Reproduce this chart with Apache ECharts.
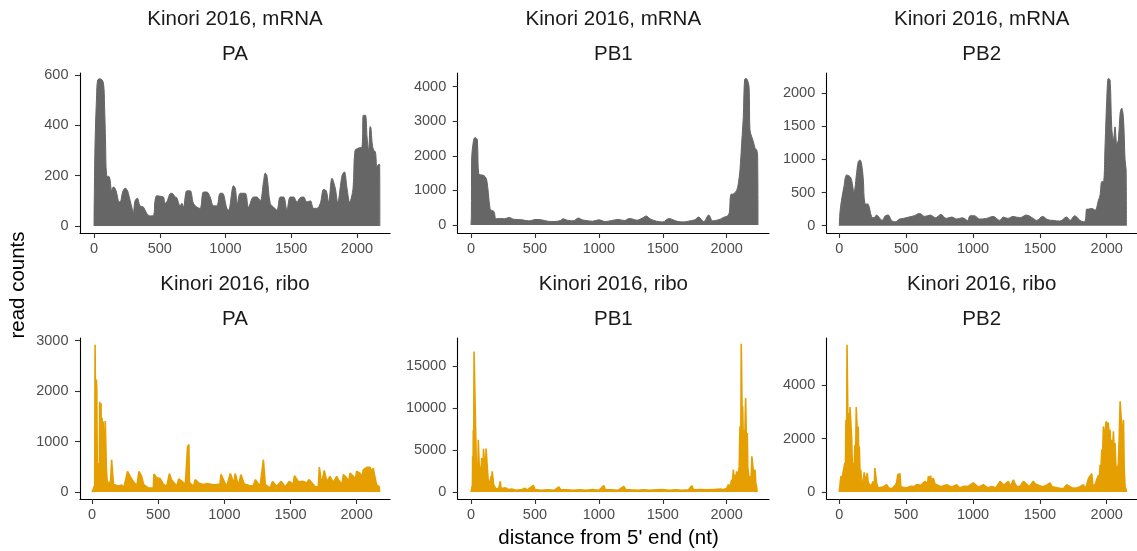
<!DOCTYPE html>
<html><head><meta charset="utf-8">
<script src="https://cdn.jsdelivr.net/npm/echarts/dist/echarts.min.js"></script>
<style>html,body{margin:0;padding:0;background:#fff}#c{width:1137px;height:551px}</style>
</head><body><div id="c"></div>
<script>
// ---- data (position in nt, read count) ----
const xTicks = [0, 500, 1000, 1500, 2000];
const yTicksPAmRNA = [0, 200, 400, 600];
const yTicksPB1mRNA = [0, 1000, 2000, 3000, 4000];
const yTicksPB2mRNA = [0, 500, 1000, 1500, 2000];
const yTicksPAribo = [0, 1000, 2000, 3000];
const yTicksPB1ribo = [0, 5000, 10000, 15000];
const yTicksPB2ribo = [0, 2000, 4000];

const mrnaPA = [[0,0],[3,150],[8,330],[20,520],[28,580],[46,585],[71,570],[80,480],[88,330],[96,200],[117,195],[135,140],[147,155],[160,150],[173,130],[185,100],[198,95],[218,135],[236,150],[250,145],[261,130],[287,75],[299,55],[312,100],[330,110],[350,80],[376,75],[401,50],[426,40],[452,42],[464,100],[477,120],[503,118],[528,115],[541,90],[553,95],[584,130],[600,128],[617,115],[629,113],[655,80],[668,90],[680,75],[706,140],[731,140],[756,90],[782,75],[807,70],[832,135],[858,135],[883,115],[909,80],[934,80],[959,130],[977,130],[1010,70],[1023,63],[1061,160],[1074,150],[1091,90],[1112,130],[1150,130],[1175,75],[1213,115],[1239,115],[1264,100],[1289,175],[1302,210],[1315,200],[1340,90],[1365,75],[1391,63],[1416,115],[1442,115],[1467,63],[1492,115],[1518,115],[1543,95],[1569,113],[1594,115],[1619,95],[1645,100],[1670,70],[1695,70],[1721,90],[1746,145],[1766,140],[1784,95],[1810,190],[1835,150],[1853,95],[1886,200],[1904,215],[1924,150],[1944,95],[1970,150],[1985,300],[2013,310],[2038,315],[2048,440],[2064,440],[2077,350],[2089,300],[2100,395],[2106,390],[2115,330],[2127,300],[2140,295],[2152,235],[2165,245],[2172,245],[2174,0]];

const mrnaPB1 = [[0,0],[3,300],[5,1880],[18,2410],[31,2530],[50,2460],[55,1800],[60,1500],[70,1450],[91,1445],[110,1400],[123,1300],[136,915],[149,480],[162,420],[180,390],[196,180],[230,190],[260,180],[300,220],[330,170],[360,160],[400,150],[450,120],[480,140],[500,160],[550,150],[600,110],[650,100],[700,130],[720,180],[750,140],[800,120],[840,200],[870,150],[900,130],[950,110],[1000,150],[1050,100],[1100,130],[1150,160],[1200,130],[1240,190],[1300,140],[1340,200],[1370,260],[1400,180],[1450,110],[1500,90],[1550,190],[1580,150],[1620,100],[1660,90],[1700,110],[1750,150],[1780,230],[1820,100],[1860,290],[1890,120],[1950,170],[1974,220],[2000,250],[2020,350],[2032,880],[2052,900],[2078,1000],[2091,1200],[2104,1590],[2117,2360],[2130,3130],[2140,4200],[2152,4240],[2162,4190],[2175,4000],[2182,2750],[2196,2550],[2209,2410],[2222,2220],[2235,2170],[2242,1975],[2245,0]];

const mrnaPB2 = [[0,0],[5,200],[17,385],[35,590],[55,765],[80,740],[92,690],[110,510],[130,800],[142,965],[155,990],[167,930],[180,690],[192,335],[217,320],[242,135],[260,120],[279,160],[300,120],[320,80],[345,150],[367,160],[390,80],[420,60],[450,100],[479,110],[500,120],[530,135],[560,150],[600,185],[640,140],[680,160],[720,120],[760,170],[800,110],[840,130],[880,100],[920,120],[960,80],[978,150],[1010,150],[1050,100],[1100,110],[1150,140],[1200,80],[1227,130],[1260,110],[1300,140],[1350,120],[1400,160],[1450,110],[1476,80],[1520,140],[1560,90],[1600,80],[1650,70],[1700,130],[1726,80],[1760,150],[1800,80],[1825,60],[1840,80],[1850,250],[1863,250],[1888,260],[1913,235],[1938,385],[1950,460],[1963,665],[1975,665],[1988,1240],[2000,1895],[2012,2220],[2025,2195],[2037,1490],[2050,1290],[2062,1490],[2075,1240],[2087,1290],[2100,1695],[2112,1770],[2125,1620],[2137,990],[2145,840],[2147,0]];

const riboPA = [[0,0],[10,60],[15,110],[20,60],[23,2920],[27,2900],[30,300],[33,2230],[36,2030],[40,400],[45,575],[48,150],[55,200],[58,1790],[62,1780],[65,300],[68,1760],[72,400],[76,1470],[80,200],[85,1400],[90,1400],[95,300],[100,1410],[105,1400],[108,500],[111,510],[115,180],[123,180],[130,150],[140,200],[148,640],[158,630],[162,150],[174,145],[200,120],[224,140],[240,80],[268,410],[275,400],[290,300],[300,310],[312,210],[330,150],[338,110],[355,410],[365,400],[375,310],[390,145],[401,145],[426,80],[463,80],[468,357],[476,350],[490,280],[501,280],[515,265],[526,265],[540,150],[564,110],[585,365],[592,360],[600,245],[615,245],[630,150],[640,110],[655,258],[665,258],[680,210],[690,210],[705,145],[715,145],[722,900],[732,940],[736,190],[750,190],[766,110],[780,245],[790,245],[805,180],[816,180],[840,150],[866,165],[890,160],[917,145],[940,150],[967,160],[975,350],[987,375],[1000,200],[1018,110],[1045,365],[1060,365],[1075,160],[1081,365],[1090,300],[1105,110],[1118,110],[1125,345],[1135,345],[1150,160],[1169,145],[1200,120],[1219,130],[1235,245],[1250,245],[1270,110],[1295,640],[1305,640],[1310,145],[1320,145],[1345,80],[1365,210],[1375,210],[1395,110],[1430,210],[1440,210],[1460,100],[1471,80],[1490,210],[1500,210],[1520,150],[1530,325],[1545,325],[1560,200],[1572,180],[1597,210],[1622,180],[1640,245],[1655,245],[1685,110],[1710,100],[1718,495],[1726,495],[1735,150],[1743,150],[1755,430],[1765,430],[1775,200],[1798,310],[1810,300],[1824,190],[1849,310],[1860,250],[1874,245],[1890,150],[1899,345],[1910,340],[1924,280],[1940,200],[1950,375],[1960,370],[1975,310],[1990,250],[2000,410],[2012,400],[2025,375],[2040,300],[2050,440],[2060,440],[2076,490],[2090,480],[2101,490],[2115,400],[2125,475],[2139,475],[2150,145],[2164,145],[2171,100],[2173,0]];

const riboPB1 = [[0,0],[5,300],[8,680],[11,300],[13,4260],[16,2000],[18,7440],[21,3000],[24,16790],[32,16790],[39,16790],[42,3000],[47,3460],[52,1000],[57,6250],[62,6250],[66,2500],[73,3060],[78,1500],[83,4060],[90,1500],[98,5170],[104,5170],[112,2000],[118,5200],[130,5250],[134,1470],[138,1470],[145,800],[156,1870],[160,1000],[166,2470],[172,2470],[177,875],[190,500],[208,300],[220,600],[229,1270],[235,400],[247,350],[270,500],[290,300],[320,350],[350,200],[400,300],[420,450],[440,250],[488,800],[500,300],[550,200],[600,250],[650,200],[688,600],[700,300],[750,250],[800,200],[850,250],[900,200],[950,300],[1000,200],[1039,760],[1050,300],[1100,250],[1150,200],[1195,680],[1210,300],[1250,250],[1300,200],[1350,250],[1400,200],[1450,250],[1500,300],[1550,200],[1600,250],[1650,200],[1700,250],[1727,760],[1740,250],[1800,300],[1850,250],[1900,300],[1950,350],[1974,300],[2000,400],[2013,875],[2025,600],[2039,1470],[2045,1000],[2052,2670],[2058,1500],[2065,2070],[2072,1500],[2078,2470],[2085,1500],[2091,2270],[2098,3000],[2104,7840],[2110,5000],[2114,17710],[2119,17710],[2122,8000],[2125,10230],[2130,6000],[2135,7440],[2140,5000],[2148,11220],[2152,11220],[2156,5000],[2161,7040],[2165,3000],[2169,3060],[2175,1500],[2182,1870],[2190,1200],[2197,4260],[2208,4060],[2215,1500],[2221,2670],[2228,1000],[2234,680],[2238,0]];

const riboPB2 = [[0,0],[5,25],[12,590],[20,500],[30,775],[38,700],[42,1090],[46,800],[50,2710],[55,2000],[58,5525],[63,5525],[66,2000],[70,2960],[75,1500],[80,3190],[86,3190],[92,2090],[98,1000],[105,1090],[110,800],[117,1775],[122,1200],[127,3190],[134,3150],[138,1800],[142,2460],[146,1200],[150,1710],[155,700],[160,840],[170,300],[180,400],[186,740],[192,740],[200,350],[209,715],[215,400],[229,210],[245,300],[254,400],[262,200],[266,900],[272,880],[279,340],[290,150],[304,90],[330,200],[354,275],[370,150],[392,120],[410,200],[429,340],[437,650],[447,690],[454,690],[460,200],[466,150],[500,150],[529,210],[560,200],[579,275],[610,250],[641,400],[660,300],[666,590],[675,500],[683,610],[690,400],[703,525],[715,300],[728,275],[760,200],[803,275],[840,180],[878,275],[900,150],[928,210],[960,200],[1002,340],[1040,180],[1077,275],[1110,150],[1140,210],[1170,150],[1202,400],[1230,250],[1264,400],[1280,200],[1302,460],[1315,300],[1327,210],[1350,200],[1377,400],[1400,300],[1420,200],[1451,400],[1465,300],[1476,275],[1520,200],[1550,250],[1576,340],[1590,200],[1601,210],[1640,150],[1676,120],[1701,275],[1740,150],[1776,150],[1800,200],[1825,275],[1840,100],[1850,90],[1865,525],[1875,500],[1888,690],[1895,300],[1900,210],[1915,300],[1925,460],[1932,400],[1938,625],[1945,500],[1950,1025],[1956,800],[1963,1590],[1968,1200],[1975,2460],[1985,2000],[1995,2650],[2005,2500],[2012,2610],[2018,2000],[2025,2340],[2030,1500],[2037,1960],[2043,1500],[2050,2280],[2056,1500],[2062,1840],[2068,1000],[2075,960],[2080,800],[2087,1090],[2093,2000],[2100,3400],[2107,3400],[2112,3340],[2118,2000],[2125,2710],[2131,800],[2137,210],[2145,80],[2147,0]];

// ---- layout / styles ----
const GREY = '#666666', ORANGE = '#E69F00';
const FONT = '"Liberation Sans", Arial, Helvetica, sans-serif';
const panels = [
  {lib:'Kinori 2016, mRNA', gene:'PA',  data:mrnaPA,  yt:yTicksPAmRNA,  ribo:false, left:80,    width:310,   top:73,  height:160, x:[-106.5,2251], y:[-28,608]},
  {lib:'Kinori 2016, mRNA', gene:'PB1', data:mrnaPB1, yt:yTicksPB1mRNA, ribo:false, left:457.7, width:311.3, top:73,  height:160, x:[-104,2331],   y:[-231,4396]},
  {lib:'Kinori 2016, mRNA', gene:'PB2', data:mrnaPB2, yt:yTicksPB2mRNA, ribo:false, left:826.7, width:310,   top:73,  height:160, x:[-94,2224],    y:[-110,2301]},
  {lib:'Kinori 2016, ribo', gene:'PA',  data:riboPA,  yt:yTicksPAribo,  ribo:true,  left:80,    width:310,   top:338, height:161, x:[-91,2252],    y:[-139,3054]},
  {lib:'Kinori 2016, ribo', gene:'PB1', data:riboPB1, yt:yTicksPB1ribo, ribo:true,  left:457.7, width:311.3, top:338, height:161, x:[-104,2331],   y:[-836,18392]},
  {lib:'Kinori 2016, ribo', gene:'PB2', data:riboPB2, yt:yTicksPB2ribo, ribo:true,  left:826.7, width:310,   top:338, height:161, x:[-94,2224],    y:[-263,5779]}
];

const axisCommon = (ticks, isX) => ({
  axisLine: {show:true, onZero:false, lineStyle:{color:'#000', width:1.1}},
  axisTick: {show:true, length:5, customValues:ticks, lineStyle:{color:'#333', width:1.1}},
  axisLabel: {customValues:ticks, formatter:(v) => String(v), color:'#4d4d4d', fontSize:14.5, fontFamily:FONT, margin: isX ? 8 : 11.5},
  splitLine: {show:false}
});

const grid = [], xAxis = [], yAxis = [], series = [], graphic = [];
panels.forEach((p, i) => {
  grid.push({left:p.left, top:p.top, width:p.width, height:p.height, containLabel:false});
  xAxis.push(Object.assign({type:'value', gridIndex:i, min:p.x[0], max:p.x[1]}, axisCommon(xTicks, true)));
  yAxis.push(Object.assign({type:'value', gridIndex:i, min:p.y[0], max:p.y[1]}, axisCommon(p.yt, false)));
  const c = p.ribo ? ORANGE : GREY;
  series.push({
    type:'line', xAxisIndex:i, yAxisIndex:i, data:p.data, showSymbol:false, silent:true,
    smooth: p.ribo ? false : 0.35,
    lineStyle:{color:c, width: p.ribo ? 1.6 : 1},
    areaStyle:{color:c, opacity:1, origin:0},
    clip:true
  });
  const cx = p.left + p.width / 2;
  graphic.push({type:'text', x:cx, y:p.top - 54, style:{text:p.lib, fontSize:20.5, fontFamily:FONT, fill:'#1a1a1a', textAlign:'center', textVerticalAlign:'middle'}});
  graphic.push({type:'text', x:cx, y:p.top - 19, style:{text:p.gene, fontSize:20.5, fontFamily:FONT, fill:'#1a1a1a', textAlign:'center', textVerticalAlign:'middle'}});
});
graphic.push({type:'text', x:18, y:285, rotation:Math.PI/2, style:{text:'read counts', fontSize:20.5, fontFamily:FONT, fill:'#000', textAlign:'center', textVerticalAlign:'middle'}});
graphic.push({type:'text', x:608.5, y:538, style:{text:"distance from 5' end (nt)", fontSize:20.5, fontFamily:FONT, fill:'#000', textAlign:'center', textVerticalAlign:'middle'}});

const chart = echarts.init(document.getElementById('c'), null, {renderer:'canvas'});
chart.setOption({animation:false, backgroundColor:'#fff', grid, xAxis, yAxis, series, graphic});
</script></body></html>
